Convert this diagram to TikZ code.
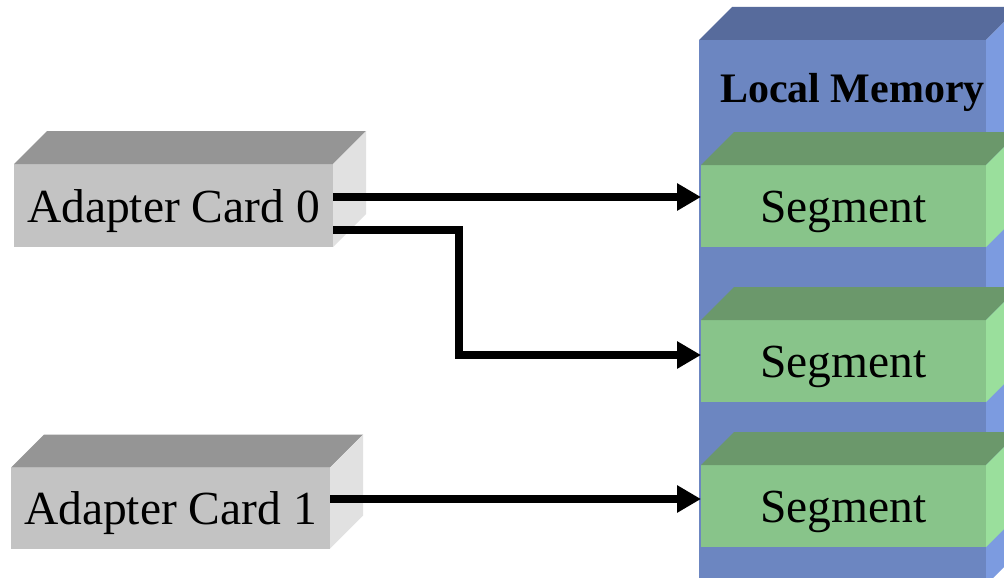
\documentclass[tikz,border=0pt]{standalone}
\usepackage{fontspec}
\setmainfont{Liberation Serif}
\usetikzlibrary{arrows.meta,calc}

\definecolor{cardfront}{HTML}{C3C3C3}
\definecolor{cardtop}{HTML}{959595}
\definecolor{cardside}{HTML}{E1E1E1}
\definecolor{memfront}{HTML}{6C86C1}
\definecolor{memtop}{HTML}{576B9C}
\definecolor{memside}{HTML}{7C9BE0}
\definecolor{segfront}{HTML}{88C48A}
\definecolor{segtop}{HTML}{6B986B}
\definecolor{segside}{HTML}{9ADF9C}

% top and side faces of a box whose front face is the given node
\newcommand\boxfaces[3]{%
  \fill[#2] (#1.north west) -- ++(33,-33) -- ([shift={(33,-33)}]#1.north east)
    -- (#1.north east) -- cycle;
  \fill[#3] (#1.north east) -- ++(33,-33) -- ([shift={(33,-33)}]#1.south east)
    -- (#1.south east) -- cycle;}

\begin{document}
\begin{tikzpicture}[x=1pt,y=-1pt,
  face/.style={inner sep=0pt, outer sep=0pt, text height=33pt, text depth=0pt,
    font=\fontsize{47.5}{50}\selectfont},
  card/.style={face, fill=cardfront, minimum width=319pt},
  seg/.style={face, fill=segfront, minimum width=285pt, minimum height=82pt},
  conn/.style={line width=8pt, -{Triangle[length=24pt,width=26pt]}}]

% canvas
\useasboundingbox (0,0) rectangle (1004,578);
\fill[white] (0,0) rectangle (1004,578);
\clip (0,0) rectangle (1004,578);

% local memory block
\node[fill=memfront, inner sep=0pt, outer sep=0pt,
  minimum width=287pt, minimum height=545pt] (mem) at (842.5,312.5) {};
\boxfaces{mem}{memtop}{memside}
\node[inner sep=0pt, text height=28.5pt, text depth=0pt,
  font=\fontsize{42}{45}\selectfont\bfseries] (lm) at (852.5,88.5) {Local Memory};

% segments inside the memory
\node[seg] (s1) at (843.5,206) {Segment};
\node[seg] (s2) at (843.5,361) {Segment};
\node[seg] (s3) at (843.5,506) {Segment};
\boxfaces{s1}{segtop}{segside}
\boxfaces{s2}{segtop}{segside}
\boxfaces{s3}{segtop}{segside}

% adapter cards
\node[card, minimum height=83pt] (c0) at (173.5,205.5) {Adapter Card 0};
\node[card, minimum height=81pt] (c1) at (170.5,508) {Adapter Card 1};
\boxfaces{c0}{cardtop}{cardside}
\boxfaces{c1}{cardtop}{cardside}

% connections
\draw[conn] ([yshift=8.5pt]c0.east) -- ([yshift=8.5pt]c0.east -| s1.west);
\draw[conn] ([yshift=-24.5pt]c0.east) -- ++(126,0) |- ([yshift=6pt]s2.west);
\draw[conn] ([yshift=9pt]c1.east) -- ([yshift=9pt]c1.east -| s3.west);
\end{tikzpicture}
\end{document}
